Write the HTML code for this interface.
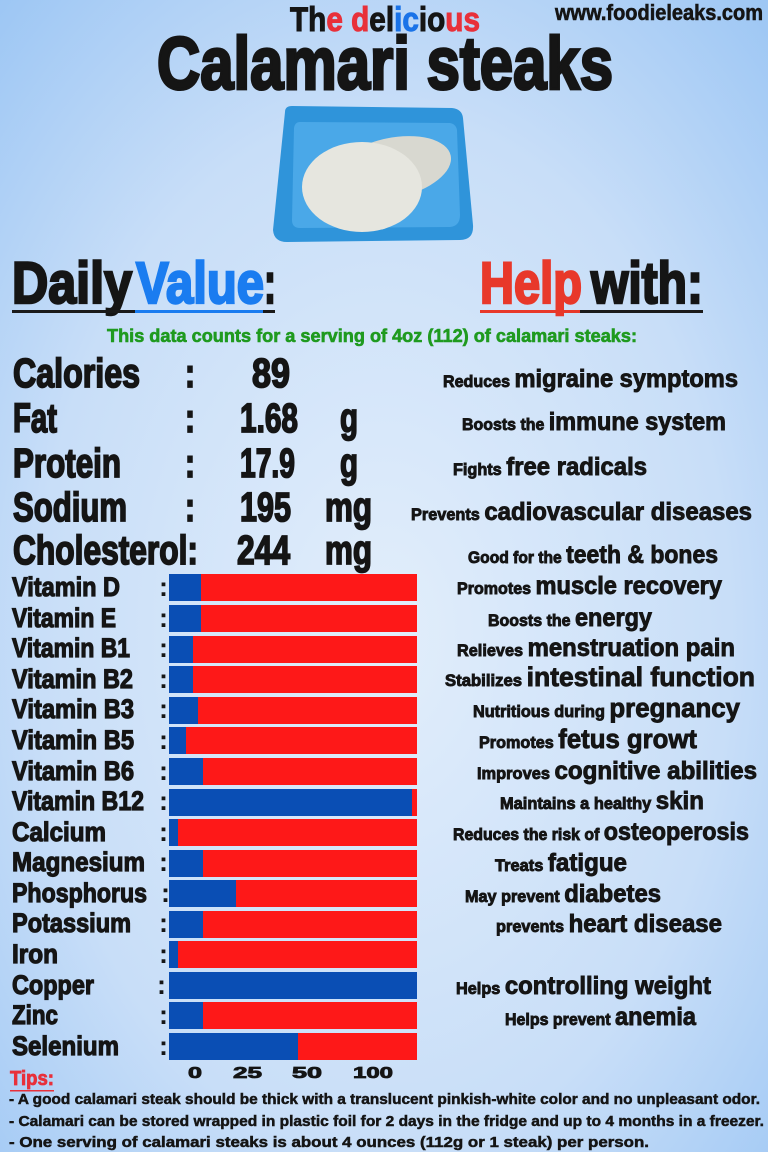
<!DOCTYPE html>
<html><head><meta charset="utf-8"><style>
html,body{margin:0;padding:0;width:768px;height:1152px;overflow:hidden}
svg{display:block}
text{font-family:"Liberation Sans",sans-serif;font-weight:bold}
</style></head><body>
<svg width="768" height="1152" viewBox="0 0 768 1152" xmlns="http://www.w3.org/2000/svg" fill="#151515">
<defs>
<radialGradient id="bg" cx="0.5" cy="0.55" r="0.75">
<stop offset="0" stop-color="#e2eefb"/><stop offset="0.6" stop-color="#c8def8"/><stop offset="1" stop-color="#9cc6f4"/>
</radialGradient>
</defs>
<rect width="768" height="1152" fill="url(#bg)"/>

<!-- header -->
<g stroke="#151515" stroke-width="1">
<text x="290" y="31" font-size="34" textLength="190" lengthAdjust="spacingAndGlyphs">Th<tspan fill="#e8303a" stroke="#e8303a">e</tspan> <tspan fill="#e8303a" stroke="#e8303a">d</tspan>el<tspan fill="#1a73e8" stroke="#1a73e8">ic</tspan>io<tspan fill="#e8303a" stroke="#e8303a">us</tspan></text>
<text x="555" y="20" font-size="22" textLength="208" lengthAdjust="spacingAndGlyphs" stroke-width="0.6">www.foodieleaks.com</text>
<text x="157" y="89" font-size="74" textLength="456" lengthAdjust="spacingAndGlyphs" stroke-width="3">Calamari steaks</text>
</g>

<!-- tray -->
<path d="M285 112 Q285 106 292 106 L452 108 Q462 109 463 118 L473 225 Q474 240 460 240 L287 242 Q274 242 273 230 Z" fill="#2f94da"/>
<path d="M300 122 L450 123 Q456 124 457 130 L460 215 Q460 226 450 227 L300 228 Q292 228 292 220 L294 128 Q295 122 300 122Z" fill="#4aa8e8"/>
<ellipse cx="392" cy="168" rx="60" ry="30" fill="#d8d8d0" transform="rotate(-12 392 168)"/>
<ellipse cx="362" cy="187" rx="60" ry="45" fill="#e6e6df"/>

<!-- section headers -->
<g stroke-width="2.5">
<text x="12" y="303" font-size="58" textLength="120" lengthAdjust="spacingAndGlyphs" stroke="#151515">Daily</text>
<text x="136" y="303" font-size="58" textLength="128" lengthAdjust="spacingAndGlyphs" fill="#1a7cf0" stroke="#1a7cf0">Value</text>
<text x="264" y="303" font-size="58" textLength="12" lengthAdjust="spacingAndGlyphs" stroke="#151515">:</text>
<text x="480" y="303" font-size="58" textLength="102" lengthAdjust="spacingAndGlyphs" fill="#e8382a" stroke="#e8382a">Help</text>
<text x="591" y="303" font-size="58" textLength="112" lengthAdjust="spacingAndGlyphs" stroke="#151515">with:</text>
</g>
<rect x="12" y="310" width="263" height="3" fill="#1a1a1a"/>
<rect x="135" y="310" width="128" height="3" fill="#1a7cf0"/>
<rect x="480" y="310" width="223" height="3" fill="#1a1a1a"/>
<rect x="480" y="310" width="100" height="3" fill="#e8382a"/>
<text x="107" y="342" font-size="18" textLength="530" lengthAdjust="spacingAndGlyphs" fill="#1f9a1f" stroke="#1f9a1f" stroke-width="0.6">This data counts for a serving of 4oz (112) of calamari steaks:</text>

<!-- main nutrients -->
<g font-size="41" stroke="#151515" stroke-width="1.8">
<text x="13" y="387" textLength="127" lengthAdjust="spacingAndGlyphs">Calories</text>
<text x="185" y="387" textLength="10" lengthAdjust="spacingAndGlyphs">:</text>
<text x="252" y="387" textLength="38" lengthAdjust="spacingAndGlyphs">89</text>
<text x="13" y="432" textLength="44" lengthAdjust="spacingAndGlyphs">Fat</text>
<text x="185" y="432" textLength="10" lengthAdjust="spacingAndGlyphs">:</text>
<text x="240" y="432" textLength="58" lengthAdjust="spacingAndGlyphs">1.68</text>
<text x="340" y="432" textLength="18" lengthAdjust="spacingAndGlyphs">g</text>
<text x="13" y="477" textLength="108" lengthAdjust="spacingAndGlyphs">Protein</text>
<text x="185" y="477" textLength="10" lengthAdjust="spacingAndGlyphs">:</text>
<text x="240" y="477" textLength="55" lengthAdjust="spacingAndGlyphs">17.9</text>
<text x="340" y="477" textLength="18" lengthAdjust="spacingAndGlyphs">g</text>
<text x="13" y="521" textLength="114" lengthAdjust="spacingAndGlyphs">Sodium</text>
<text x="185" y="521" textLength="10" lengthAdjust="spacingAndGlyphs">:</text>
<text x="240" y="521" textLength="51" lengthAdjust="spacingAndGlyphs">195</text>
<text x="325" y="521" textLength="47" lengthAdjust="spacingAndGlyphs">mg</text>
<text x="13" y="564" textLength="185" lengthAdjust="spacingAndGlyphs">Cholesterol:</text>
<text x="237" y="564" textLength="53" lengthAdjust="spacingAndGlyphs">244</text>
<text x="325" y="564" textLength="47" lengthAdjust="spacingAndGlyphs">mg</text>
</g>

<!-- vitamin labels -->
<g font-size="27" stroke="#151515" stroke-width="1.2">
<text x="12" y="596" textLength="108" lengthAdjust="spacingAndGlyphs">Vitamin D</text>
<text x="12" y="627" textLength="104" lengthAdjust="spacingAndGlyphs">Vitamin E</text>
<text x="12" y="657" textLength="118" lengthAdjust="spacingAndGlyphs">Vitamin B1</text>
<text x="12" y="688" textLength="121" lengthAdjust="spacingAndGlyphs">Vitamin B2</text>
<text x="12" y="718" textLength="122" lengthAdjust="spacingAndGlyphs">Vitamin B3</text>
<text x="12" y="749" textLength="122" lengthAdjust="spacingAndGlyphs">Vitamin B5</text>
<text x="12" y="780" textLength="122" lengthAdjust="spacingAndGlyphs">Vitamin B6</text>
<text x="12" y="810" textLength="132" lengthAdjust="spacingAndGlyphs">Vitamin B12</text>
<text x="12" y="841" textLength="94" lengthAdjust="spacingAndGlyphs">Calcium</text>
<text x="12" y="871" textLength="133" lengthAdjust="spacingAndGlyphs">Magnesium</text>
<text x="12" y="902" textLength="135" lengthAdjust="spacingAndGlyphs">Phosphorus</text>
<text x="12" y="932" textLength="119" lengthAdjust="spacingAndGlyphs">Potassium</text>
<text x="12" y="963" textLength="46" lengthAdjust="spacingAndGlyphs">Iron</text>
<text x="12" y="994" textLength="82" lengthAdjust="spacingAndGlyphs">Copper</text>
<text x="12" y="1024" textLength="46" lengthAdjust="spacingAndGlyphs">Zinc</text>
<text x="12" y="1055" textLength="107" lengthAdjust="spacingAndGlyphs">Selenium</text>
</g>
<g font-size="27">
<text x="159" y="596">:</text><text x="159" y="627">:</text><text x="159" y="657">:</text><text x="159" y="688">:</text>
<text x="159" y="718">:</text><text x="159" y="749">:</text><text x="159" y="780">:</text><text x="159" y="810">:</text>
<text x="159" y="841">:</text><text x="159" y="871">:</text><text x="161" y="902">:</text><text x="159" y="932">:</text>
<text x="159" y="963">:</text><text x="157" y="994">:</text><text x="159" y="1024">:</text><text x="159" y="1055">:</text>
</g>

<!-- bars -->
<g>
<rect x="169" y="574" width="248" height="27" fill="#fe1818"/><rect x="169" y="574" width="32" height="27" fill="#0a4eb4"/>
<rect x="169" y="605" width="248" height="27" fill="#fe1818"/><rect x="169" y="605" width="32" height="27" fill="#0a4eb4"/>
<rect x="169" y="636" width="248" height="27" fill="#fe1818"/><rect x="169" y="636" width="24" height="27" fill="#0a4eb4"/>
<rect x="169" y="666" width="248" height="27" fill="#fe1818"/><rect x="169" y="666" width="24" height="27" fill="#0a4eb4"/>
<rect x="169" y="697" width="248" height="27" fill="#fe1818"/><rect x="169" y="697" width="29" height="27" fill="#0a4eb4"/>
<rect x="169" y="727" width="248" height="27" fill="#fe1818"/><rect x="169" y="727" width="17" height="27" fill="#0a4eb4"/>
<rect x="169" y="758" width="248" height="27" fill="#fe1818"/><rect x="169" y="758" width="34" height="27" fill="#0a4eb4"/>
<rect x="169" y="789" width="248" height="27" fill="#fe1818"/><rect x="169" y="789" width="243" height="27" fill="#0a4eb4"/>
<rect x="169" y="819" width="248" height="27" fill="#fe1818"/><rect x="169" y="819" width="9" height="27" fill="#0a4eb4"/>
<rect x="169" y="850" width="248" height="27" fill="#fe1818"/><rect x="169" y="850" width="34" height="27" fill="#0a4eb4"/>
<rect x="169" y="880" width="248" height="27" fill="#fe1818"/><rect x="169" y="880" width="67" height="27" fill="#0a4eb4"/>
<rect x="169" y="911" width="248" height="27" fill="#fe1818"/><rect x="169" y="911" width="34" height="27" fill="#0a4eb4"/>
<rect x="169" y="941" width="248" height="27" fill="#fe1818"/><rect x="169" y="941" width="9" height="27" fill="#0a4eb4"/>
<rect x="169" y="972" width="248" height="27" fill="#0a4eb4"/>
<rect x="169" y="1002" width="248" height="27" fill="#fe1818"/><rect x="169" y="1002" width="34" height="27" fill="#0a4eb4"/>
<rect x="169" y="1033" width="248" height="27" fill="#fe1818"/><rect x="169" y="1033" width="129" height="27" fill="#0a4eb4"/>
</g>
<g font-size="16" stroke="#151515" stroke-width="0.8">
<text x="188" y="1078" textLength="14" lengthAdjust="spacingAndGlyphs">0</text>
<text x="233" y="1078" textLength="29" lengthAdjust="spacingAndGlyphs">25</text>
<text x="292" y="1078" textLength="30" lengthAdjust="spacingAndGlyphs">50</text>
<text x="353" y="1078" textLength="40" lengthAdjust="spacingAndGlyphs">100</text>
</g>

<!-- help with items -->
<g stroke="#151515" stroke-width="0.9">
<text x="443" y="387" font-size="25" textLength="295" lengthAdjust="spacingAndGlyphs"><tspan font-size="17">Reduces </tspan>migraine symptoms</text>
<text x="462" y="430" font-size="25" textLength="264" lengthAdjust="spacingAndGlyphs"><tspan font-size="17">Boosts the </tspan>immune system</text>
<text x="453" y="475" font-size="25" textLength="194" lengthAdjust="spacingAndGlyphs"><tspan font-size="17">Fights </tspan>free radicals</text>
<text x="411" y="520" font-size="25" textLength="341" lengthAdjust="spacingAndGlyphs"><tspan font-size="17">Prevents </tspan>cadiovascular diseases</text>
<text x="468" y="563" font-size="25" textLength="250" lengthAdjust="spacingAndGlyphs"><tspan font-size="17">Good for the </tspan>teeth &amp; bones</text>
<text x="457" y="594" font-size="25" textLength="265" lengthAdjust="spacingAndGlyphs"><tspan font-size="17">Promotes </tspan>muscle recovery</text>
<text x="488" y="626" font-size="25" textLength="164" lengthAdjust="spacingAndGlyphs"><tspan font-size="17">Boosts the </tspan>energy</text>
<text x="457" y="656" font-size="25" textLength="278" lengthAdjust="spacingAndGlyphs"><tspan font-size="17">Relieves </tspan>menstruation pain</text>
<text x="445" y="686" font-size="27" textLength="310" lengthAdjust="spacingAndGlyphs"><tspan font-size="17">Stabilizes </tspan>intestinal function</text>
<text x="473" y="717" font-size="27" textLength="267" lengthAdjust="spacingAndGlyphs"><tspan font-size="17">Nutritious during </tspan>pregnancy</text>
<text x="479" y="748" font-size="27" textLength="218" lengthAdjust="spacingAndGlyphs"><tspan font-size="17">Promotes </tspan>fetus growt</text>
<text x="477" y="779" font-size="25" textLength="280" lengthAdjust="spacingAndGlyphs"><tspan font-size="17">Improves </tspan>cognitive abilities</text>
<text x="500" y="809" font-size="25" textLength="204" lengthAdjust="spacingAndGlyphs"><tspan font-size="17">Maintains a healthy </tspan>skin</text>
<text x="453" y="840" font-size="25" textLength="296" lengthAdjust="spacingAndGlyphs"><tspan font-size="17">Reduces the risk of </tspan>osteoperosis</text>
<text x="495" y="871" font-size="25" textLength="132" lengthAdjust="spacingAndGlyphs"><tspan font-size="17">Treats </tspan>fatigue</text>
<text x="465" y="902" font-size="25" textLength="196" lengthAdjust="spacingAndGlyphs"><tspan font-size="17">May prevent </tspan>diabetes</text>
<text x="496" y="932" font-size="25" textLength="226" lengthAdjust="spacingAndGlyphs"><tspan font-size="17">prevents </tspan>heart disease</text>
<text x="456" y="994" font-size="25" textLength="255" lengthAdjust="spacingAndGlyphs"><tspan font-size="17">Helps </tspan>controlling weight</text>
<text x="505" y="1025" font-size="25" textLength="191" lengthAdjust="spacingAndGlyphs"><tspan font-size="17">Helps prevent </tspan>anemia</text>
</g>

<!-- tips -->
<text x="10" y="1085" font-size="20" textLength="44" lengthAdjust="spacingAndGlyphs" fill="#e8303a" stroke="#e8303a" stroke-width="0.8">Tips:</text>
<rect x="10" y="1090" width="44" height="1.5" fill="#e8303a"/>
<g font-size="14.5" stroke="#151515" stroke-width="0.5">
<text x="9" y="1104" textLength="751" lengthAdjust="spacingAndGlyphs">- A good calamari steak should be thick with a translucent pinkish-white color and no unpleasant odor.</text>
<text x="9" y="1126" textLength="755" lengthAdjust="spacingAndGlyphs">- Calamari can be stored wrapped in plastic foil for 2 days in the fridge and up to 4 months in a freezer.</text>
<text x="9" y="1147" textLength="640" lengthAdjust="spacingAndGlyphs">- One serving of calamari steaks is about 4 ounces (112g or 1 steak) per person.</text>
</g>
</svg>
</body></html>
